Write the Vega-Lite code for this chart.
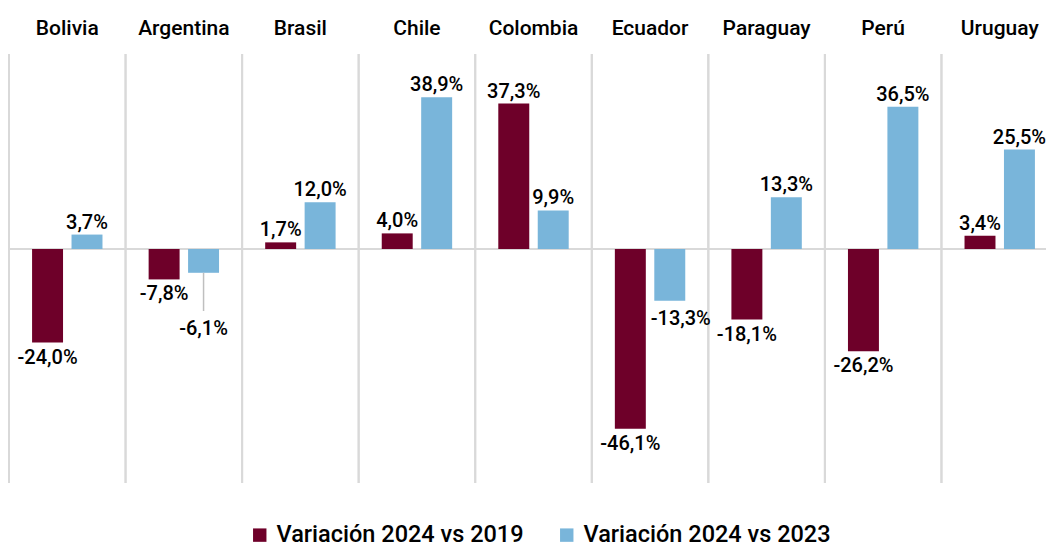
{
  "$schema": "https://vega.github.io/schema/vega-lite/v6.json",
  "width": 1049,
  "height": 429,
  "autosize": {"type": "none"},
  "padding": {"left": 9, "top": 54, "right": 0, "bottom": 63},
  "background": "white",
  "config": {
    "view": {"stroke": null},
    "font": "Roboto",
    "axis": {"title": null, "domain": false, "ticks": false, "tickSize": 0, "grid": false, "labelPadding": 20, "labelBaseline": "alphabetic", "labelAngle": 0, "labelFontSize": 21, "labelFont": "Roboto", "labelFontWeight": 500, "labelColor": "#000000"}
  },
  "data": {
    "values": [
      {"pais": "Bolivia", "serie": "Variación 2024 vs 2019", "v": -24.0, "lbl": "-24,0%"},
      {"pais": "Bolivia", "serie": "Variación 2024 vs 2023", "v": 3.7, "lbl": "3,7%"},
      {"pais": "Argentina", "serie": "Variación 2024 vs 2019", "v": -7.8, "lbl": "-7,8%"},
      {"pais": "Argentina", "serie": "Variación 2024 vs 2023", "v": -6.1, "lbl": "-6,1%"},
      {"pais": "Brasil", "serie": "Variación 2024 vs 2019", "v": 1.7, "lbl": "1,7%"},
      {"pais": "Brasil", "serie": "Variación 2024 vs 2023", "v": 12.0, "lbl": "12,0%"},
      {"pais": "Chile", "serie": "Variación 2024 vs 2019", "v": 4.0, "lbl": "4,0%"},
      {"pais": "Chile", "serie": "Variación 2024 vs 2023", "v": 38.9, "lbl": "38,9%"},
      {"pais": "Colombia", "serie": "Variación 2024 vs 2019", "v": 37.3, "lbl": "37,3%"},
      {"pais": "Colombia", "serie": "Variación 2024 vs 2023", "v": 9.9, "lbl": "9,9%"},
      {"pais": "Ecuador", "serie": "Variación 2024 vs 2019", "v": -46.1, "lbl": "-46,1%"},
      {"pais": "Ecuador", "serie": "Variación 2024 vs 2023", "v": -13.3, "lbl": "-13,3%"},
      {"pais": "Paraguay", "serie": "Variación 2024 vs 2019", "v": -18.1, "lbl": "-18,1%"},
      {"pais": "Paraguay", "serie": "Variación 2024 vs 2023", "v": 13.3, "lbl": "13,3%"},
      {"pais": "Perú", "serie": "Variación 2024 vs 2019", "v": -26.2, "lbl": "-26,2%"},
      {"pais": "Perú", "serie": "Variación 2024 vs 2023", "v": 36.5, "lbl": "36,5%"},
      {"pais": "Uruguay", "serie": "Variación 2024 vs 2019", "v": 3.4, "lbl": "3,4%"},
      {"pais": "Uruguay", "serie": "Variación 2024 vs 2023", "v": 25.5, "lbl": "25,5%"}
    ]
  },
  "layer": [
    {
      "mark": {"type": "rule", "color": "#d9d9d9", "strokeWidth": 2},
      "encoding": {
        "x": {
          "field": "pais", "type": "nominal", "bandPosition": 0,
          "sort": ["Bolivia", "Argentina", "Brasil", "Chile", "Colombia", "Ecuador", "Paraguay", "Perú", "Uruguay"],
          "scale": {"paddingInner": 0, "paddingOuter": 0},
          "axis": {"orient": "top"}
        }
      }
    },
    {
      "mark": {"type": "rule", "color": "#d9d9d9", "strokeWidth": 1.5},
      "encoding": {"y": {"datum": 0, "type": "quantitative", "axis": null}}
    },
    {
      "mark": {"type": "bar"},
      "encoding": {
        "x": {"field": "pais", "type": "nominal", "sort": ["Bolivia", "Argentina", "Brasil", "Chile", "Colombia", "Ecuador", "Paraguay", "Perú", "Uruguay"], "axis": {"orient": "top"}},
        "xOffset": {"field": "serie", "type": "nominal", "scale": {"paddingInner": 0.215, "paddingOuter": 0.585}},
        "y": {"field": "v", "type": "quantitative", "scale": {"domain": [-60, 50], "nice": false, "zero": false}, "axis": null},
        "color": {
          "field": "serie", "type": "nominal",
          "scale": {"domain": ["Variación 2024 vs 2019", "Variación 2024 vs 2023"], "range": ["#6E0029", "#79B5DA"]},
          "legend": {"orient": "none", "legendX": 239, "legendY": 469, "direction": "horizontal", "title": null, "symbolType": "square", "symbolSize": 180, "symbolStrokeWidth": 0, "labelFontSize": 23.5, "labelFont": "Roboto", "labelFontWeight": 500, "labelColor": "#000000", "labelOffset": 5, "columnPadding": 31, "labelLimit": 400}
        }
      }
    },
    {
      "transform": [{"filter": "datum.v >= 0"}],
      "mark": {"type": "text", "baseline": "alphabetic", "dy": -6, "fontSize": 20, "fontWeight": 500, "color": "#000000"},
      "encoding": {
        "x": {"field": "pais", "type": "nominal", "sort": ["Bolivia", "Argentina", "Brasil", "Chile", "Colombia", "Ecuador", "Paraguay", "Perú", "Uruguay"], "axis": {"orient": "top"}},
        "xOffset": {"field": "serie", "type": "nominal"},
        "y": {"field": "v", "type": "quantitative", "axis": null},
        "text": {"field": "lbl", "type": "nominal"}
      }
    },
    {
      "transform": [{"filter": "datum.v < 0 && datum.lbl != '-6,1%' && datum.lbl != '-13,3%'"}],
      "mark": {"type": "text", "baseline": "alphabetic", "dy": 21, "fontSize": 20, "fontWeight": 500, "color": "#000000"},
      "encoding": {
        "x": {"field": "pais", "type": "nominal", "sort": ["Bolivia", "Argentina", "Brasil", "Chile", "Colombia", "Ecuador", "Paraguay", "Perú", "Uruguay"], "axis": {"orient": "top"}},
        "xOffset": {"field": "serie", "type": "nominal"},
        "y": {"field": "v", "type": "quantitative", "axis": null},
        "text": {"field": "lbl", "type": "nominal"}
      }
    },
    {
      "transform": [{"filter": "datum.lbl == '-13,3%'"}],
      "mark": {"type": "text", "baseline": "alphabetic", "dy": 24, "dx": 11, "fontSize": 20, "fontWeight": 500, "color": "#000000"},
      "encoding": {
        "x": {"field": "pais", "type": "nominal", "sort": ["Bolivia", "Argentina", "Brasil", "Chile", "Colombia", "Ecuador", "Paraguay", "Perú", "Uruguay"], "axis": {"orient": "top"}},
        "xOffset": {"field": "serie", "type": "nominal"},
        "y": {"field": "v", "type": "quantitative", "axis": null},
        "text": {"field": "lbl", "type": "nominal"}
      }
    },
    {
      "transform": [{"filter": "datum.lbl == '-6,1%'"}],
      "mark": {"type": "rule", "color": "#bfbfbf", "strokeWidth": 1.5},
      "encoding": {
        "x": {"field": "pais", "type": "nominal", "sort": ["Bolivia", "Argentina", "Brasil", "Chile", "Colombia", "Ecuador", "Paraguay", "Perú", "Uruguay"], "axis": {"orient": "top"}},
        "xOffset": {"field": "serie", "type": "nominal"},
        "y": {"field": "v", "type": "quantitative", "axis": null},
        "y2": {"datum": -15.9}
      }
    },
    {
      "transform": [{"filter": "datum.lbl == '-6,1%'"}],
      "mark": {"type": "text", "baseline": "alphabetic", "dy": 24, "fontSize": 20, "fontWeight": 500, "color": "#000000"},
      "encoding": {
        "x": {"field": "pais", "type": "nominal", "sort": ["Bolivia", "Argentina", "Brasil", "Chile", "Colombia", "Ecuador", "Paraguay", "Perú", "Uruguay"], "axis": {"orient": "top"}},
        "xOffset": {"field": "serie", "type": "nominal"},
        "y": {"datum": -15.9, "type": "quantitative", "axis": null},
        "text": {"field": "lbl", "type": "nominal"}
      }
    }
  ]
}
